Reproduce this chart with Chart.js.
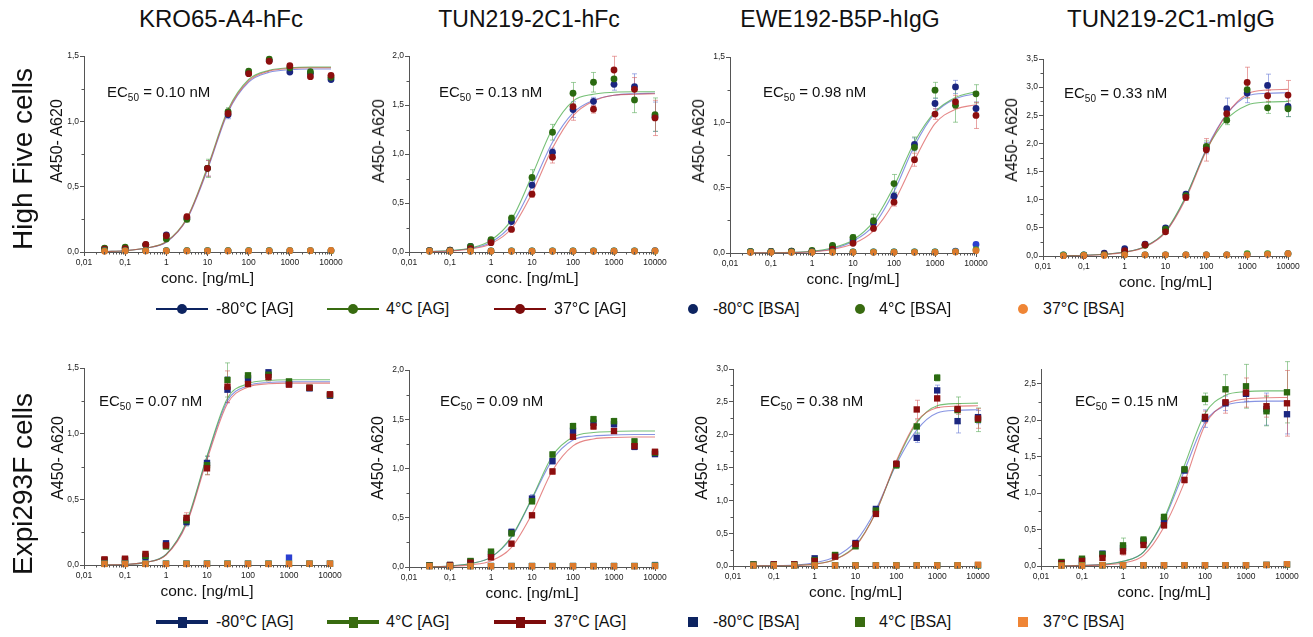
<!DOCTYPE html>
<html>
<head>
<meta charset="utf-8">
<script src="https://cdn.jsdelivr.net/npm/chart.js@4.4.1/dist/chart.umd.min.js"></script>
<style>
  body { margin: 0; background: #fff; font-family: "Liberation Sans", Arial, sans-serif; color: #111; }
  #page { position: relative; width: 1313px; height: 637px; overflow: hidden; background: #fff; }
  canvas { position: absolute; }
  .txt { position: absolute; white-space: nowrap; line-height: 1; }
  .sub { position: relative; top: 3.5px; font-size: 10px; }
  .icon { position: absolute; }
</style>
</head>
<body>
<div id="page"></div>
<script>
// concentrations (ng/mL), half-log dilution series
const concs = [0.0316, 0.1, 0.316, 1, 3.16, 10, 31.6, 100, 316, 1000, 3160, 10000];
const xTickVals = [0.01, 0.1, 1, 10, 100, 1000, 10000];
const xTickLabels = ['0,01', '0,1', '1', '10', '100', '1000', '10000'];
const antibodies = ['KRO65-A4-hFc', 'TUN219-2C1-hFc', 'EWE192-B5P-hIgG', 'TUN219-2C1-mIgG'];
const cellLines = ['High Five cells', 'Expi293F cells'];
const seriesNames = ['-80°C [AG]', '4°C [AG]', '37°C [AG]', '-80°C [BSA]', '4°C [BSA]', '37°C [BSA]'];
const ec50 = ['0.10', '0.13', '0.98', '0.33', '0.07', '0.09', '0.38', '0.15'];
const yMax = [1.5, 2.0, 1.5, 3.5, 1.5, 2.0, 3.0, 2.7];

// each block: rows are -80°C, 4°C, 37°C

// High Five / KRO65-A4-hFc
const hfKroAg = [
  [0.025, 0.03, 0.055, 0.13, 0.26, 0.64, 1.05, 1.37, 1.465, 1.377, 1.367, 1.32],
  [0.03, 0.038, 0.055, 0.10, 0.25, 0.64, 1.075, 1.385, 1.475, 1.41, 1.38, 1.337],
  [0.022, 0.025, 0.058, 0.125, 0.27, 0.64, 1.06, 1.365, 1.46, 1.426, 1.342, 1.352]
];
const hfKroErr = [
  [0.005, 0.005, 0.005, 0.01, 0.02, 0.06, 0.03, 0.01, 0.01, 0.01, 0.01, 0.01],
  [0.005, 0.005, 0.005, 0.01, 0.02, 0.07, 0.03, 0.01, 0.015, 0.01, 0.015, 0.01],
  [0.005, 0.005, 0.005, 0.01, 0.02, 0.06, 0.02, 0.01, 0.01, 0.01, 0.01, 0.01]
];
const hfKroFit = [
  [0.003, 0.01, 0.03, 0.075, 0.25, 0.63, 1.07, 1.30, 1.375, 1.395, 1.40, 1.40],
  [0.003, 0.01, 0.03, 0.08, 0.26, 0.65, 1.09, 1.32, 1.39, 1.41, 1.415, 1.415],
  [0.003, 0.01, 0.03, 0.078, 0.255, 0.64, 1.08, 1.31, 1.385, 1.405, 1.41, 1.41]
];
const hfKroBsa = [
  [0.01, 0.01, 0.01, 0.01, 0.01, 0.01, 0.01, 0.01, 0.01, 0.01, 0.01, 0.01],
  [0.01, 0.01, 0.01, 0.01, 0.01, 0.01, 0.01, 0.01, 0.01, 0.01, 0.01, 0.01],
  [0.005, 0.008, 0.008, 0.008, 0.008, 0.008, 0.008, 0.008, 0.008, 0.01, 0.01, 0.012]
];

// High Five / TUN219-2C1-hFc
const hfTunHAg = [
  [0.015, 0.02, 0.058, 0.115, 0.31, 0.683, 1.019, 1.453, 1.538, 1.711, 1.688, 1.38],
  [0.015, 0.02, 0.058, 0.126, 0.346, 0.76, 1.222, 1.62, 1.732, 1.766, 1.552, 1.402],
  [0.014, 0.017, 0.034, 0.095, 0.23, 0.59, 0.968, 1.484, 1.457, 1.857, 1.66, 1.368]
];
const hfTunHErr = [
  [0.005, 0.005, 0.01, 0.01, 0.02, 0.03, 0.04, 0.08, 0.04, 0.06, 0.13, 0.15],
  [0.005, 0.005, 0.01, 0.01, 0.03, 0.08, 0.08, 0.11, 0.10, 0.08, 0.13, 0.17],
  [0.005, 0.005, 0.01, 0.01, 0.02, 0.03, 0.06, 0.14, 0.04, 0.14, 0.12, 0.18]
];
const hfTunHFit = [
  [0.005, 0.013, 0.035, 0.10, 0.28, 0.67, 1.12, 1.42, 1.55, 1.60, 1.615, 1.62],
  [0.005, 0.015, 0.04, 0.12, 0.33, 0.78, 1.26, 1.54, 1.61, 1.63, 1.635, 1.635],
  [0.004, 0.01, 0.03, 0.085, 0.24, 0.60, 1.06, 1.39, 1.54, 1.60, 1.61, 1.615]
];
const hfTunHBsa = [
  [0.01, 0.01, 0.01, 0.01, 0.01, 0.01, 0.01, 0.01, 0.01, 0.01, 0.01, 0.015],
  [0.01, 0.01, 0.01, 0.01, 0.01, 0.01, 0.01, 0.01, 0.01, 0.01, 0.01, 0.01],
  [0.008, 0.008, 0.008, 0.008, 0.008, 0.008, 0.008, 0.008, 0.008, 0.008, 0.008, 0.01]
];

// High Five / EWE192-B5P-hIgG
const hfEweAg = [
  [0.01, 0.012, 0.015, 0.015, 0.05, 0.10, 0.23, 0.435, 0.831, 1.144, 1.271, 1.106],
  [0.012, 0.012, 0.015, 0.02, 0.058, 0.12, 0.247, 0.531, 0.808, 1.246, 1.131, 1.218],
  [0.008, 0.01, 0.01, 0.01, 0.03, 0.074, 0.188, 0.389, 0.714, 1.063, 1.157, 1.053]
];
const hfEweErr = [
  [0.005, 0.005, 0.005, 0.005, 0.01, 0.01, 0.02, 0.03, 0.05, 0.04, 0.05, 0.05],
  [0.005, 0.005, 0.005, 0.005, 0.01, 0.02, 0.05, 0.07, 0.08, 0.06, 0.13, 0.07],
  [0.005, 0.005, 0.005, 0.005, 0.01, 0.01, 0.02, 0.03, 0.05, 0.04, 0.05, 0.10]
];
const hfEweFit = [
  [0.001, 0.002, 0.004, 0.011, 0.033, 0.09, 0.21, 0.47, 0.82, 1.07, 1.18, 1.22],
  [0.001, 0.002, 0.005, 0.013, 0.04, 0.10, 0.24, 0.51, 0.85, 1.08, 1.19, 1.235],
  [0.001, 0.002, 0.003, 0.009, 0.027, 0.07, 0.17, 0.39, 0.71, 0.99, 1.10, 1.135]
];
const hfEweBsa = [
  [0.008, 0.008, 0.008, 0.008, 0.008, 0.008, 0.008, 0.008, 0.008, 0.008, 0.015, 0.066],
  [0.008, 0.008, 0.008, 0.008, 0.008, 0.008, 0.008, 0.008, 0.008, 0.008, 0.01, 0.025],
  [0.005, 0.005, 0.005, 0.005, 0.005, 0.005, 0.005, 0.005, 0.005, 0.005, 0.008, 0.018]
];

// High Five / TUN219-2C1-mIgG
const hfTunMAg = [
  [0.01, 0.012, 0.05, 0.13, 0.21, 0.50, 1.097, 1.916, 2.616, 2.894, 3.031, 2.657],
  [0.01, 0.015, 0.03, 0.08, 0.19, 0.475, 1.07, 1.945, 2.414, 2.954, 2.633, 2.616],
  [0.008, 0.01, 0.035, 0.095, 0.20, 0.43, 1.04, 1.886, 2.527, 3.084, 2.847, 2.859]
];
const hfTunMErr = [
  [0.005, 0.005, 0.01, 0.02, 0.03, 0.03, 0.05, 0.10, 0.19, 0.17, 0.20, 0.18],
  [0.005, 0.005, 0.01, 0.02, 0.03, 0.03, 0.05, 0.10, 0.08, 0.15, 0.10, 0.14],
  [0.005, 0.005, 0.01, 0.02, 0.03, 0.03, 0.05, 0.20, 0.08, 0.27, 0.10, 0.26]
];
const hfTunMFit = [
  [0.005, 0.012, 0.03, 0.07, 0.17, 0.43, 1.05, 1.90, 2.52, 2.84, 2.89, 2.90],
  [0.005, 0.012, 0.03, 0.07, 0.17, 0.44, 1.06, 1.88, 2.43, 2.68, 2.735, 2.745],
  [0.004, 0.01, 0.027, 0.065, 0.16, 0.42, 1.02, 1.87, 2.52, 2.88, 2.95, 2.96]
];
const hfTunMBsa = [
  [0.02, 0.02, 0.02, 0.02, 0.02, 0.02, 0.02, 0.02, 0.02, 0.03, 0.03, 0.04],
  [0.02, 0.02, 0.02, 0.02, 0.02, 0.02, 0.02, 0.02, 0.02, 0.04, 0.04, 0.04],
  [0.005, 0.01, 0.01, 0.02, 0.02, 0.02, 0.02, 0.02, 0.02, 0.02, 0.03, 0.04]
];

// Expi293F / KRO65-A4-hFc
const exKroAg = [
  [0.035, 0.04, 0.06, 0.165, 0.327, 0.777, 1.335, 1.421, 1.467, 1.38, 1.345, 1.289],
  [0.035, 0.035, 0.07, 0.142, 0.34, 0.76, 1.409, 1.444, 1.449, 1.398, 1.35, 1.295],
  [0.043, 0.048, 0.084, 0.15, 0.358, 0.736, 1.358, 1.378, 1.431, 1.373, 1.35, 1.30]
];
const exKroErr = [
  [0.01, 0.01, 0.01, 0.02, 0.03, 0.05, 0.10, 0.02, 0.02, 0.01, 0.01, 0.01],
  [0.01, 0.01, 0.01, 0.02, 0.04, 0.07, 0.13, 0.02, 0.02, 0.01, 0.01, 0.01],
  [0.01, 0.01, 0.01, 0.02, 0.04, 0.05, 0.12, 0.02, 0.03, 0.01, 0.01, 0.01]
];
const exKroFit = [
  [0.0, 0.004, 0.02, 0.08, 0.32, 0.82, 1.25, 1.365, 1.39, 1.395, 1.395, 1.395],
  [0.0, 0.004, 0.02, 0.08, 0.33, 0.83, 1.27, 1.38, 1.405, 1.41, 1.41, 1.41],
  [0.0, 0.004, 0.02, 0.075, 0.31, 0.80, 1.23, 1.355, 1.38, 1.385, 1.385, 1.385]
];
const exKroBsa = [
  [0.01, 0.01, 0.01, 0.01, 0.01, 0.01, 0.01, 0.01, 0.01, 0.056, 0.01, 0.01],
  [0.01, 0.01, 0.01, 0.01, 0.01, 0.01, 0.01, 0.01, 0.01, 0.01, 0.01, 0.01],
  [0.008, 0.008, 0.008, 0.008, 0.008, 0.008, 0.008, 0.008, 0.008, 0.008, 0.01, 0.01]
];

// Expi293F / TUN219-2C1-hFc
const exTunHAg = [
  [0.015, 0.02, 0.055, 0.132, 0.356, 0.695, 1.075, 1.383, 1.464, 1.45, 1.22, 1.146],
  [0.018, 0.02, 0.061, 0.156, 0.342, 0.668, 1.142, 1.43, 1.50, 1.48, 1.275, 1.16],
  [0.012, 0.02, 0.044, 0.098, 0.237, 0.525, 0.97, 1.322, 1.427, 1.38, 1.227, 1.17]
];
const exTunHErr = [
  [0.005, 0.005, 0.01, 0.02, 0.03, 0.04, 0.03, 0.03, 0.03, 0.03, 0.03, 0.02],
  [0.005, 0.005, 0.01, 0.02, 0.03, 0.03, 0.03, 0.03, 0.03, 0.03, 0.03, 0.02],
  [0.005, 0.005, 0.01, 0.02, 0.02, 0.02, 0.03, 0.02, 0.03, 0.02, 0.03, 0.02]
];
const exTunHFit = [
  [0.002, 0.01, 0.035, 0.10, 0.30, 0.69, 1.09, 1.29, 1.33, 1.34, 1.345, 1.345],
  [0.002, 0.01, 0.035, 0.10, 0.31, 0.70, 1.13, 1.32, 1.365, 1.375, 1.38, 1.38],
  [0.002, 0.007, 0.022, 0.062, 0.20, 0.54, 0.98, 1.23, 1.30, 1.315, 1.32, 1.32]
];
const exTunHBsa = [
  [0.01, 0.01, 0.01, 0.01, 0.01, 0.01, 0.01, 0.01, 0.01, 0.01, 0.01, 0.02],
  [0.01, 0.01, 0.01, 0.01, 0.01, 0.01, 0.01, 0.01, 0.01, 0.01, 0.01, 0.015],
  [0.008, 0.008, 0.008, 0.008, 0.008, 0.008, 0.008, 0.008, 0.008, 0.008, 0.008, 0.01]
];

// Expi293F / EWE192-B5P-hIgG
const exEweAg = [
  [0.02, 0.02, 0.02, 0.117, 0.16, 0.35, 0.869, 1.55, 1.952, 2.674, 2.206, 2.267],
  [0.025, 0.02, 0.02, 0.09, 0.168, 0.30, 0.844, 1.535, 2.125, 2.867, 2.374, 2.227],
  [0.015, 0.025, 0.025, 0.076, 0.142, 0.335, 0.793, 1.556, 2.384, 2.552, 2.39, 2.247]
];
const exEweErr = [
  [0.005, 0.005, 0.005, 0.02, 0.02, 0.03, 0.03, 0.05, 0.07, 0.08, 0.18, 0.10],
  [0.005, 0.005, 0.005, 0.02, 0.02, 0.03, 0.03, 0.05, 0.10, 0.05, 0.20, 0.18],
  [0.005, 0.005, 0.005, 0.02, 0.02, 0.03, 0.03, 0.05, 0.14, 0.14, 0.08, 0.15]
];
const exEweFit = [
  [0.002, 0.005, 0.015, 0.05, 0.14, 0.37, 0.86, 1.55, 2.07, 2.33, 2.37, 2.38],
  [0.001, 0.003, 0.008, 0.03, 0.10, 0.31, 0.82, 1.58, 2.18, 2.44, 2.475, 2.48],
  [0.001, 0.003, 0.008, 0.028, 0.10, 0.30, 0.82, 1.60, 2.20, 2.41, 2.435, 2.44]
];
const exEweBsa = [
  [0.01, 0.01, 0.01, 0.01, 0.01, 0.01, 0.01, 0.01, 0.01, 0.01, 0.01, 0.01],
  [0.01, 0.01, 0.01, 0.01, 0.01, 0.01, 0.01, 0.01, 0.01, 0.01, 0.01, 0.01],
  [0.008, 0.008, 0.008, 0.008, 0.008, 0.008, 0.008, 0.008, 0.008, 0.008, 0.01, 0.02]
];

// Expi293F / TUN219-2C1-mIgG
const exTunMAg = [
  [0.045, 0.08, 0.17, 0.247, 0.343, 0.626, 1.31, 2.02, 2.23, 2.36, 2.15, 2.08],
  [0.055, 0.10, 0.16, 0.283, 0.361, 0.672, 1.325, 2.29, 2.422, 2.463, 2.121, 2.381],
  [0.037, 0.069, 0.11, 0.20, 0.288, 0.558, 1.179, 2.043, 2.244, 2.377, 2.19, 2.23]
];
const exTunMErr = [
  [0.01, 0.02, 0.03, 0.04, 0.03, 0.04, 0.04, 0.12, 0.10, 0.10, 0.22, 0.27],
  [0.01, 0.02, 0.03, 0.10, 0.04, 0.04, 0.04, 0.08, 0.20, 0.30, 0.20, 0.42],
  [0.01, 0.02, 0.03, 0.05, 0.03, 0.04, 0.04, 0.08, 0.15, 0.20, 0.15, 0.45]
];
const exTunMFit = [
  [0.0, 0.008, 0.022, 0.064, 0.19, 0.63, 1.31, 1.97, 2.20, 2.25, 2.26, 2.26],
  [0.0, 0.008, 0.02, 0.064, 0.19, 0.65, 1.38, 2.09, 2.34, 2.39, 2.40, 2.40],
  [0.0, 0.005, 0.015, 0.04, 0.146, 0.535, 1.15, 1.93, 2.22, 2.29, 2.305, 2.31]
];
const exTunMBsa = [
  [0.01, 0.01, 0.01, 0.01, 0.01, 0.01, 0.01, 0.01, 0.01, 0.01, 0.015, 0.02],
  [0.01, 0.01, 0.01, 0.01, 0.01, 0.01, 0.01, 0.01, 0.01, 0.01, 0.015, 0.02],
  [0.005, 0.005, 0.01, 0.01, 0.01, 0.01, 0.01, 0.01, 0.01, 0.01, 0.015, 0.025]
];

const panelData = [
  [hfKroAg, hfKroErr, hfKroFit, hfKroBsa],
  [hfTunHAg, hfTunHErr, hfTunHFit, hfTunHBsa],
  [hfEweAg, hfEweErr, hfEweFit, hfEweBsa],
  [hfTunMAg, hfTunMErr, hfTunMFit, hfTunMBsa],
  [exKroAg, exKroErr, exKroFit, exKroBsa],
  [exTunHAg, exTunHErr, exTunHFit, exTunHBsa],
  [exEweAg, exEweErr, exEweFit, exEweBsa],
  [exTunMAg, exTunMErr, exTunMFit, exTunMBsa]
];

// layout (page pixels): plot area left, top, right, bottom
const plotBoxes = [
  [84, 56, 331, 252], [409, 56, 655, 252], [730, 57, 976, 253], [1043, 59, 1288, 256],
  [84, 368, 330, 565], [409, 370, 655, 567], [733, 369, 978, 566], [1041, 369, 1287, 566]
];
const yTitlePos = [[57, 141], [379, 141], [699, 141], [1012, 140], [58, 458], [378, 458], [702, 458], [1014, 458]];
const ec50Pos = [[107, 91], [439, 91], [763, 91], [1064, 92], [99, 400], [440, 400], [760, 400], [1075, 400]];
const titlePos = [221, 529, 840, 1171];
const titleSize = [24, 23, 23, 24];
const rowLabelPos = [159, 484];
const legendRowsY = [309, 622];
const legendMarkX = [182, 353, 520, 693, 860, 1023];
const legendTextX = [216, 386, 554, 713, 879, 1043];

const Y_AXIS_W = 40, X_AXIS_H = 36, PAD_T = 8, PAD_R = 14;
const axisColor = '#555';
const agColors = ['#1b2680', '#2b6a10', '#8c0e0e'];
const bsaColors = ['#2b3fd0', '#3a9a2a', '#dc7a2c'];
const fitColors = ['rgba(70,90,210,0.65)', 'rgba(60,165,60,0.7)', 'rgba(215,70,70,0.65)'];
const errColors = ['rgba(90,110,210,0.55)', 'rgba(80,165,80,0.55)', 'rgba(215,90,90,0.55)'];
const legendAg = ['#0d2461', '#386b10', '#7d0b0b'];
const legendBsa = ['#0d2461', '#386b10', '#ef8535'];

Chart.defaults.font.family = '"Liberation Sans", Arial, sans-serif';

const page = document.getElementById('page');

function addText(html, x, y, size, mode) {
  const d = document.createElement('div');
  d.className = 'txt';
  d.innerHTML = html;
  d.style.fontSize = size + 'px';
  d.style.left = x + 'px';
  d.style.top = y + 'px';
  if (mode === 'rot') d.style.transform = 'translate(-50%,-50%) rotate(-90deg)';
  else if (mode === 'left') d.style.transform = 'translate(0,-50%)';
  else d.style.transform = 'translate(-50%,-50%)';
  page.appendChild(d);
  return d;
}

function addBox(x, y, w, h, color, round) {
  const d = document.createElement('div');
  d.className = 'icon';
  d.style.left = (x - w / 2) + 'px';
  d.style.top = (y - h / 2) + 'px';
  d.style.width = w + 'px';
  d.style.height = h + 'px';
  d.style.background = color;
  if (round) d.style.borderRadius = '50%';
  page.appendChild(d);
}

// error bars drawn under the markers
const errorBars = {
  id: 'errorBars',
  beforeDatasetsDraw(chart) {
    const { ctx, scales: { x, y } } = chart;
    chart.data.datasets.forEach(ds => {
      if (!ds.errors) return;
      ctx.save();
      ctx.strokeStyle = ds.errorColor;
      ctx.lineWidth = 1;
      ctx.beginPath();
      ds.data.forEach((p, i) => {
        const e = ds.errors[i];
        if (!e) return;
        const px = Math.round(x.getPixelForValue(p.x)) + 0.5;
        const top = y.getPixelForValue(p.y + e);
        const bot = y.getPixelForValue(Math.max(p.y - e, 0));
        ctx.moveTo(px, top); ctx.lineTo(px, bot);
        ctx.moveTo(px - 2.5, top); ctx.lineTo(px + 2.5, top);
        ctx.moveTo(px - 2.5, bot); ctx.lineTo(px + 2.5, bot);
      });
      ctx.stroke();
      ctx.restore();
    });
  }
};

// short minor ticks on both axes
const minorTicks = {
  id: 'minorTicks',
  afterDraw(chart) {
    const { ctx, chartArea, scales: { x, y } } = chart;
    ctx.save();
    ctx.strokeStyle = axisColor;
    ctx.lineWidth = 1;
    ctx.beginPath();
    xTickVals.slice(0, -1).forEach(base => {
      for (let m = 2; m < 10; m++) {
        const px = Math.round(x.getPixelForValue(base * m)) + 0.5;
        ctx.moveTo(px, chartArea.bottom);
        ctx.lineTo(px, chartArea.bottom + 2.5);
      }
    });
    for (let v = 0.25; v < y.max; v += 0.5) {
      const py = Math.round(y.getPixelForValue(v)) + 0.5;
      ctx.moveTo(chartArea.left, py);
      ctx.lineTo(chartArea.left - 2.5, py);
    }
    ctx.stroke();
    ctx.restore();
  }
};

panelData.forEach(([ag, err, fit, bsa], p) => {
  const [L, T, R, B] = plotBoxes[p];
  const canvas = document.createElement('canvas');
  canvas.width = R - L + Y_AXIS_W + PAD_R;
  canvas.height = B - T + PAD_T + X_AXIS_H;
  canvas.style.left = (L - Y_AXIS_W) + 'px';
  canvas.style.top = (T - PAD_T) + 'px';
  page.appendChild(canvas);

  const marker = p < 4 ? 'circle' : 'rect';
  const r = p < 4 ? 3.4 : 4.5;
  const pts = vals => vals.map((v, i) => ({ x: concs[i], y: v }));
  const datasets = [];
  fit.forEach((vals, s) => datasets.push({
    data: pts(vals), showLine: true, pointRadius: 0, borderColor: fitColors[s],
    borderWidth: 1.1, cubicInterpolationMode: 'monotone'
  }));
  ag.forEach((vals, s) => datasets.push({
    data: pts(vals), errors: err[s], errorColor: errColors[s], pointStyle: marker,
    pointRadius: r, pointBackgroundColor: agColors[s], pointBorderWidth: 0
  }));
  bsa.forEach((vals, s) => datasets.push({
    data: pts(vals), pointStyle: marker, pointRadius: r,
    pointBackgroundColor: bsaColors[s], pointBorderWidth: 0
  }));
  datasets.forEach((d, i) => { d.order = 100 - i; d.clip = false; });

  new Chart(canvas, {
    type: 'scatter',
    data: { datasets },
    options: {
      responsive: false,
      animation: false,
      events: [],
      layout: { padding: { top: PAD_T, right: PAD_R, left: 0, bottom: 0 } },
      plugins: { legend: { display: false }, tooltip: { enabled: false } },
      scales: {
        x: {
          type: 'logarithmic', min: 0.01, max: 10000,
          afterBuildTicks: s => { s.ticks = xTickVals.map(v => ({ value: v })); },
          afterFit: s => { s.height = X_AXIS_H; },
          ticks: { autoSkip: false, maxRotation: 0, padding: 2, color: '#222', font: { size: 8.5 },
                   callback: (v, i) => xTickLabels[i] },
          grid: { drawOnChartArea: false, tickLength: 4, color: axisColor },
          border: { color: axisColor, width: 1 },
          title: { display: true, text: 'conc. [ng/mL]', color: '#111', font: { size: 15.5 }, padding: 0 }
        },
        y: {
          min: 0, max: yMax[p],
          afterFit: s => { s.width = Y_AXIS_W; },
          ticks: { stepSize: 0.5, includeBounds: false, padding: 1, color: '#222', font: { size: 8.5 },
                   callback: v => v.toFixed(1).replace('.', ',') },
          grid: { drawOnChartArea: false, tickLength: 4, color: axisColor },
          border: { color: axisColor, width: 1 }
        }
      }
    },
    plugins: [errorBars, minorTicks]
  });

  addText('A450- A620', yTitlePos[p][0], yTitlePos[p][1], 16, 'rot');
  addText('EC<span class="sub">50</span> = ' + ec50[p] + ' nM', ec50Pos[p][0], ec50Pos[p][1], 15, 'left');
});

antibodies.forEach((name, i) => addText(name, titlePos[i], 18.5, titleSize[i]));
cellLines.forEach((name, i) => addText(name, 22.5, rowLabelPos[i], 28, 'rot'));

// legends: circles for High Five row, squares for Expi293F row
legendRowsY.forEach((ly, row) => {
  seriesNames.forEach((name, i) => {
    const mx = legendMarkX[i];
    if (i < 3) {
      addBox(mx, ly, 52, row === 0 ? 2.5 : 3.5, legendAg[i], false);
      if (row === 0) addBox(mx, ly, 10, 10, legendAg[i], true);
      else addBox(mx, ly, 9, 11, legendAg[i], false);
    } else {
      if (row === 0) addBox(mx, ly, 10, 10, legendBsa[i - 3], true);
      else addBox(mx, ly, 10, 10, legendBsa[i - 3], false);
    }
    addText(name, legendTextX[i], ly, 16, 'left');
  });
});
</script>
</body>
</html>
